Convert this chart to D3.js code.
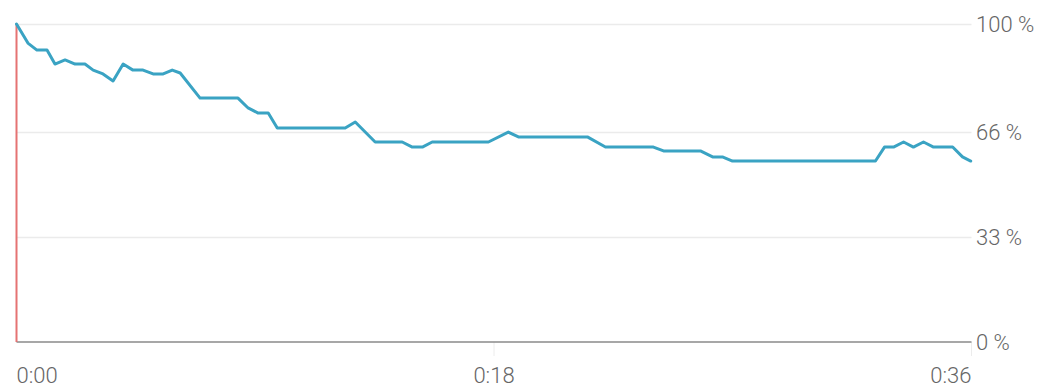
<!DOCTYPE html>
<html>
<head>
<meta charset="utf-8">
<script src="https://cdn.jsdelivr.net/npm/d3@7"></script>
<style>
  html, body { margin: 0; padding: 0; background: #fff; }
  svg { display: block; }
  .tick-label { font-family: Roboto, "Noto Sans", sans-serif; font-weight: 300; fill: #666666; }
</style>
</head>
<body>
<svg id="chart" width="1061" height="389"></svg>
<script>
// Data: time in seconds, retention in percent
const times = [0, 0.43, 0.77, 1.15, 1.45, 1.83, 2.21, 2.58, 2.89, 3.26, 3.64, 4.02, 4.39, 4.77, 5.15, 5.53, 5.87, 6.17,
  6.92, 8.35, 8.73, 9.11, 9.49, 9.83, 12.39, 12.77, 13.52, 14.54, 14.92, 15.30, 15.67, 17.79, 18.54, 18.92,
  21.52, 22.20, 24.01, 24.39, 25.78, 26.24, 26.61, 26.99, 32.38, 32.72, 33.06, 33.44, 33.81, 34.19, 34.57,
  35.29, 35.66, 35.97];
const values = [100, 94.0, 91.8, 91.8, 87.4, 88.7, 87.4, 87.4, 85.5, 84.3, 82.1, 87.4, 85.5, 85.5, 84.3, 84.3, 85.5, 84.6,
  76.7, 76.7, 73.6, 72.0, 72.0, 67.3, 67.3, 69.2, 62.9, 62.9, 61.3, 61.3, 62.9, 62.9, 66.0, 64.5,
  64.5, 61.3, 61.3, 60.1, 60.1, 58.2, 58.2, 56.9, 56.9, 61.3, 61.3, 62.9, 61.3, 62.9, 61.3,
  61.3, 58.2, 56.9];
const xTicks = [0, 18, 36];
const xTickLabels = ["0:00", "0:18", "0:36"];
const yTicks = [0, 33, 66, 100];
const yTickLabels = ["0 %", "33 %", "66 %", "100 %"];

const svg = d3.select("#chart");
const x = d3.scaleLinear().domain([0, 36]).range([16.5, 971.5]);
const y = d3.scaleLinear().domain([0, 100]).range([342, 24]);

// horizontal gridlines
svg.append("g").selectAll("line").data(yTicks.filter(d => d !== 0)).join("line")
  .attr("x1", x(0)).attr("x2", x(36))
  .attr("y1", d => Math.round(y(d)) + 0.5).attr("y2", d => Math.round(y(d)) + 0.5)
  .attr("stroke", "#ebebeb").attr("stroke-width", 1.5);

// vertical tick marks
svg.append("g").selectAll("line").data(xTicks.slice(1)).join("line")
  .attr("x1", d => x(d)).attr("x2", d => x(d))
  .attr("y1", y(0)).attr("y2", y(0) + 14)
  .attr("stroke", "#ececec").attr("stroke-width", 1);

// baseline
svg.append("line")
  .attr("x1", x(0)).attr("x2", x(36))
  .attr("y1", y(0)).attr("y2", y(0))
  .attr("stroke", "#8a8a8a").attr("stroke-width", 1.5);

// red start marker
svg.append("line")
  .attr("x1", x(0)).attr("x2", x(0))
  .attr("y1", y(100)).attr("y2", y(0))
  .attr("stroke", "#e57373").attr("stroke-width", 2);

// retention line
const line = d3.line().x((d, i) => x(times[i])).y(d => y(d));
svg.append("path").datum(values)
  .attr("d", line)
  .attr("fill", "none")
  .attr("stroke", "#3aa3c3")
  .attr("stroke-width", 3)
  .attr("stroke-linejoin", "round")
  .attr("stroke-linecap", "round");

// y labels (right)
svg.append("g").selectAll("text").data(yTicks).join("text")
  .attr("class", "tick-label")
  .attr("x", 976)
  .attr("y", d => y(d) + 8)
  .attr("font-size", 22)
  .text((d, i) => yTickLabels[i]);

// x labels
svg.append("g").selectAll("text").data(xTicks).join("text")
  .attr("class", "tick-label")
  .attr("x", d => x(d))
  .attr("y", 383)
  .attr("font-size", 22)
  .attr("text-anchor", (d, i) => i === 0 ? "start" : (i === xTicks.length - 1 ? "end" : "middle"))
  .text((d, i) => xTickLabels[i]);
</script>
</body>
</html>
